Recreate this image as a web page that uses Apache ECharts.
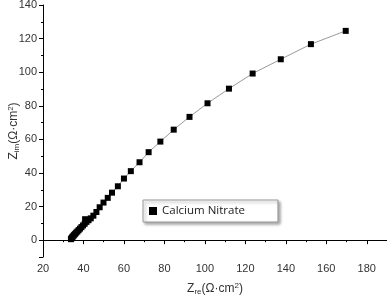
<!DOCTYPE html>
<html>
<head>
<meta charset="utf-8">
<script src="https://cdn.jsdelivr.net/npm/echarts@6/dist/echarts.min.js"></script>
<style>
  html, body { margin: 0; padding: 0; background: #fff; }
  #chart { width: 387px; height: 296px; }
</style>
</head>
<body>
<div id="chart"></div>
<script>
// Nyquist points (Z_re, Z_im)
var seriesName = 'Calcium Nitrate';
var zRe = [33.8, 34.0, 34.3, 34.6, 35.0, 35.4, 35.9, 36.4, 37.0, 37.6, 38.3, 39.0, 39.8, 40.6, 40.8, 41.5, 42.5, 43.6,
           44.9, 46.4, 48.0, 49.9, 52.0, 54.1, 57.0, 60.0, 63.4, 67.7, 72.2, 78.0, 84.6, 92.4, 101.3, 111.9, 123.6, 137.5, 152.4, 169.6];
var zIm = [0.6, 1.0, 1.5, 2.0, 2.6, 3.2, 3.8, 4.5, 5.2, 6.0, 6.9, 7.8, 8.8, 9.8, 12.5, 10.9, 11.9, 13.0,
           14.6, 16.8, 19.6, 22.4, 25.2, 28.3, 32.1, 36.7, 41.1, 46.4, 52.4, 58.7, 65.8, 73.4, 81.5, 90.2, 99.2, 107.7, 116.7, 124.6];

var points = zRe.map(function (x, i) { return [x, zIm[i]]; });

var labelFont = { fontFamily: 'Liberation Sans', fontSize: 11, color: '#333' };
var nameRich = {
    a: { fontFamily: 'Liberation Sans', fontSize: 12, color: '#333' },
    sub: { fontFamily: 'Liberation Sans', fontSize: 8, color: '#333', padding: [7, 0, 0, 0] },
    sup: { fontFamily: 'Liberation Sans', fontSize: 8, color: '#333', padding: [0, 0, 6, 0] }
};

var chart = echarts.init(document.getElementById('chart'));

chart.setOption({
    animation: false,
    grid: { left: 43, top: 5, right: 0, bottom: 39, outerBoundsMode: 'none' },
    legend: {
        data: [seriesName],
        left: 143,
        top: 200,
        icon: 'rect',
        itemWidth: 8,
        itemHeight: 8,
        itemGap: 4,
        padding: [5, 33, 5, 6],
        borderColor: '#999',
        borderWidth: 1,
        backgroundColor: '#fff',
        shadowColor: 'rgba(0,0,0,0.35)',
        shadowBlur: 3,
        shadowOffsetX: 2,
        shadowOffsetY: 2,
        textStyle: { fontFamily: 'Open Sans', fontSize: 11.5, color: '#222' }
    },
    xAxis: {
        type: 'value',
        min: 20,
        max: 190,
        interval: 20,
        name: '{a|Z}{sub|re}{a|(Ω·cm}{sup|2}{a|)}',
        nameLocation: 'middle',
        nameGap: 24,
        nameMoveOverlap: false,
        nameTextStyle: { rich: nameRich },
        axisLine: { lineStyle: { color: '#000', width: 1 } },
        axisTick: { length: 4, lineStyle: { color: '#000' } },
        minorTick: { show: true, splitNumber: 2, length: 2, lineStyle: { color: '#000' } },
        axisLabel: Object.assign({ margin: 6, showMaxLabel: false }, labelFont),
        splitLine: { show: false }
    },
    yAxis: {
        type: 'value',
        min: -10,
        max: 140,
        splitNumber: 7,
        name: '{a|Z}{sub|im}{a|(Ω·cm}{sup|2}{a|)}',
        nameLocation: 'middle',
        nameRotate: 90,
        nameGap: 22,
        nameMoveOverlap: false,
        nameTextStyle: { rich: nameRich },
        axisLine: { show: true, lineStyle: { color: '#000', width: 1 } },
        axisTick: { show: true, length: 4, lineStyle: { color: '#000' } },
        minorTick: { show: true, splitNumber: 2, length: 2, lineStyle: { color: '#000' } },
        axisLabel: Object.assign({ margin: 6, showMinLabel: false }, labelFont),
        splitLine: { show: false }
    },
    series: [{
        name: seriesName,
        type: 'line',
        data: points,
        symbol: 'rect',
        symbolSize: 6,
        itemStyle: { color: '#000' },
        lineStyle: { color: '#999', width: 1 }
    }]
});
</script>
</body>
</html>
